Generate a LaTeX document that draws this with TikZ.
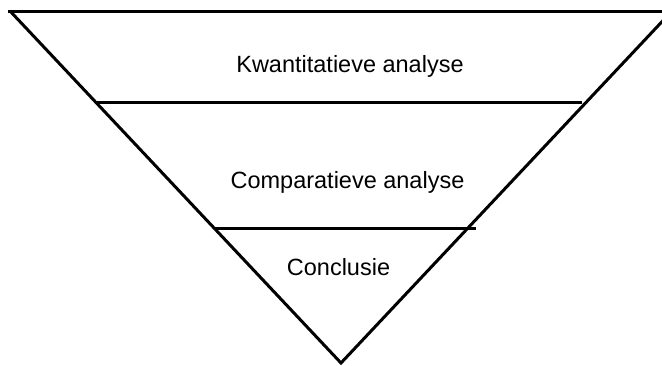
\documentclass[tikz,border=0pt]{standalone}
\usepackage{fontspec}
\setmainfont{Liberation Sans}
\begin{document}
\begin{tikzpicture}[x=1pt,y=-1pt,
  edge/.style={line width=3pt},
  lbl/.style={anchor=base,font=\fontsize{23.5}{28}\selectfont,inner sep=0pt}]
\useasboundingbox (0,0) rectangle (662,365);
\coordinate (tl) at (10,11);
\coordinate (tr) at (672,11);
\coordinate (ap) at (341,363);
\coordinate (t0) at (8,11);
\coordinate (t1) at (662,11);
\coordinate (a0) at (95,102);
\coordinate (a1) at (582,102);
\coordinate (b0) at (215,228);
\coordinate (b1) at (476,228);
\draw[edge] (t0) -- (t1);
\draw[edge,line join=miter] (tl) -- (ap) -- (tr);
\draw[edge] (a0) -- (a1);
\draw[edge] (b0) -- (b1);
\node[lbl] (k) at (350,72) {Kwantitatieve analyse};
\node[lbl] (c) at (347.5,188) {Comparatieve analyse};
\node[lbl] (z) at (338.5,275) {Conclusie};
\end{tikzpicture}
\end{document}
